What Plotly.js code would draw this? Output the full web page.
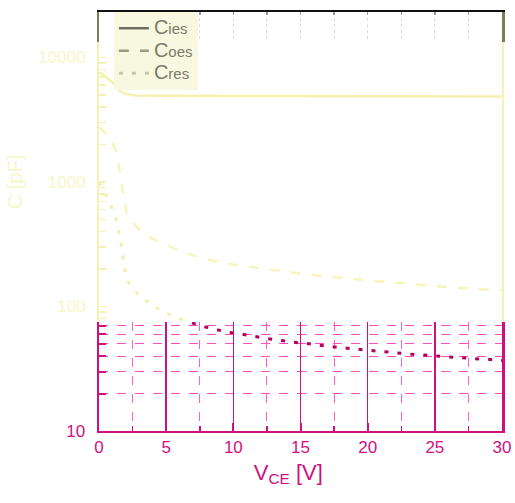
<!DOCTYPE html>
<html>
<head>
<meta charset="utf-8">
<script src="https://cdn.plot.ly/plotly-3.0.1.min.js"></script>
<style>html,body{margin:0;padding:0;background:#fff;}</style>
</head>
<body>
<div id="chart" style="width:515px;height:503px;"></div>
<script>
// ---- data (VCE in V, capacitance in pF) ----
const ciesV = [0, 0.5, 1.0, 1.5, 2.0, 2.7, 5, 10, 15, 20, 25, 30];
const ciesC = [7600, 7000, 6300, 5450, 5100, 4950, 4920, 4900, 4890, 4880, 4870, 4860];

const coesV = [0, 0.67, 1.19, 1.41, 1.49, 1.64, 1.73, 1.86, 2.06, 2.43, 3.28, 4.02, 5.06, 5.66, 6.92, 8.49, 9.88, 11.61, 13.35, 14.84, 16.58, 18.19, 19.8, 21.42, 23.03, 24.77, 26.26, 27.86, 30];
const coesC = [2750, 2390, 1880, 1590, 1300, 1080, 874, 717, 564, 477, 389, 348, 312, 290, 259, 234, 218, 205, 193, 185, 176, 169, 163, 157, 153, 146, 143, 138, 135];

const cresV = [0, 0.82, 1.19, 1.41, 1.64, 1.76, 1.88, 2.18, 2.88, 3.80, 4.79, 5.78, 6.70, 7.64, 8.64, 9.63, 10.57, 11.56, 12.53, 13.47, 14.44, 15.39, 16.36, 17.32, 18.29, 19.26, 20.2, 21.16, 22.13, 23.1, 24.07, 25.01, 25.98, 26.95, 27.92, 28.88, 30];
const cresC = [1000, 678, 543, 419, 324, 259, 204, 157, 126, 105, 90.3, 80.9, 75.1, 69.7, 65.6, 62.1, 60.1, 57.2, 55.1, 53.5, 51.6, 50.6, 48.8, 47.5, 46.4, 45.3, 44.2, 43.4, 42.6, 41.5, 40.8, 40.0, 39.3, 38.8, 38.1, 37.7, 36.8];

const seriesNames = [
  '<span style="font-size:20px">C</span>ies',
  '<span style="font-size:20px">C</span>oes',
  '<span style="font-size:20px">C</span>res'
];
const xTicks = [0, 5, 10, 15, 20, 25, 30];
const yTickLow = [10];
const yTickLowText = ['10'];
const yTickMid = [100, 1000, 10000];
const yTickMidText = ['100', '1000', '10000'];

// ---- styling ----
const MAG = '#d0107f';
const PALE = '#f6f2b4';
const PALE_TXT = '#f8f6c8';
const FONT = 'Liberation Sans, Arial, sans-serif';

const series = [
  {x: ciesV, y: ciesC, dash: 'solid', w: 2.5, low: MAG, mid: '#f5f0ae', top: '#6f6f60'},
  {x: coesV, y: coesC, dash: '10px,11px', w: 2.5, low: MAG, mid: '#f8f5bc', top: '#9a9a80'},
  {x: cresV, y: cresC, dash: '4px,9px', w: 3, low: '#b3005b', mid: '#f4efae', top: '#c8c8a8'}
];

const traces = [];
series.forEach((s, i) => {
  traces.push({x: s.x, y: s.y, xaxis: 'x', yaxis: 'y', mode: 'lines', showlegend: false,
    line: {color: s.low, width: s.w, dash: s.dash}, hoverinfo: 'skip'});
  traces.push({x: s.x, y: s.y, xaxis: 'x2', yaxis: 'y2', mode: 'lines', showlegend: false,
    line: {color: s.mid, width: s.w, dash: s.dash}, hoverinfo: 'skip'});
  traces.push({x: s.x, y: s.y, xaxis: 'x3', yaxis: 'y3', mode: 'lines', name: seriesNames[i], showlegend: true,
    line: {color: s.top, width: s.w, dash: s.dash}, hoverinfo: 'skip'});
});

const lowTop = 1.8755, midTop = 4.1245, yTop = 4.365;
const dLow = 109 / 419, dMid = 389 / 419;

const layout = {
  width: 515, height: 503,
  margin: {l: 99, r: 13, t: 12, b: 72, pad: 0},
  paper_bgcolor: '#ffffff', plot_bgcolor: '#ffffff',
  font: {family: FONT, color: MAG},
  showlegend: true,
  legend: {x: 0.037, y: 1, xanchor: 'left', yanchor: 'top', bgcolor: '#f8f8e0',
    borderwidth: 0, font: {size: 15, color: '#7a7a68', family: FONT}, tracegroupgap: 0,
    entrywidth: 62, entrywidthmode: 'pixels'},
  xaxis: {
    anchor: 'y', domain: [0, 1], range: [0, 30],
    tickvals: xTicks, ticks: 'inside', ticklen: 8, tickwidth: 2, tickcolor: MAG,
    tickfont: {size: 17, color: MAG, family: FONT},
    showline: true, linecolor: MAG, linewidth: 2, mirror: false,
    showgrid: true, gridcolor: MAG, gridwidth: 1.5,
    minor: {dtick: 2.5, tick0: 0, ticks: 'inside', ticklen: 5, tickcolor: MAG, tickwidth: 1.5,
      showgrid: true, gridcolor: '#ff5fc8', gridwidth: 1, griddash: 'dash'},
    zeroline: false,
    title: {text: 'V<sub>CE</sub> [V]&nbsp;&nbsp;&nbsp;&nbsp;', font: {size: 22, color: MAG, family: FONT}, standoff: 8}
  },
  yaxis: {
    anchor: 'x', domain: [0, dLow], type: 'log', range: [1, lowTop],
    tickvals: yTickLow, ticktext: yTickLowText,
    ticks: 'inside', ticklen: 7, tickwidth: 2, tickcolor: MAG,
    tickfont: {size: 17, color: MAG, family: FONT}, ticklabelstandoff: 8,
    showline: true, linecolor: MAG, linewidth: 2.5, mirror: true,
    showgrid: true, gridcolor: '#ff4fc0', gridwidth: 1, griddash: 'dash', zeroline: false,
    minor: {dtick: 'D1', ticks: 'inside', ticklen: 7, tickwidth: 2, tickcolor: MAG,
      showgrid: true, gridcolor: '#ff4fc0', gridwidth: 1, griddash: 'dash'}
  },
  xaxis2: {
    anchor: 'y2', matches: 'x', showticklabels: false, ticks: '', showgrid: false,
    showline: false, zeroline: false
  },
  yaxis2: {
    anchor: 'x2', domain: [dLow, dMid], type: 'log', range: [lowTop, midTop],
    tickvals: yTickMid, ticktext: yTickMidText,
    ticks: 'inside', ticklen: 7, tickwidth: 1.5, tickcolor: PALE,
    tickfont: {size: 17, color: PALE_TXT, family: FONT}, ticklabelstandoff: 8,
    showline: true, linecolor: PALE, linewidth: 2, mirror: true,
    showgrid: false, zeroline: false,
    minor: {dtick: 'D1', ticks: 'inside', ticklen: 7, tickwidth: 1.5, tickcolor: PALE, showgrid: false},
    title: {text: 'C [pF]', font: {size: 20, color: PALE_TXT, family: FONT}, standoff: 10}
  },
  xaxis3: {
    anchor: 'y3', matches: 'x', side: 'top', showticklabels: false,
    dtick: 2.5, tick0: 0, ticks: 'inside', ticklen: 3, tickcolor: '#9a9a9a', tickwidth: 1.5,
    showgrid: true, gridcolor: '#dcdcc8', gridwidth: 1, griddash: 'dot',
    showline: true, linecolor: '#111111', linewidth: 2.5, zeroline: false
  },
  yaxis3: {
    anchor: 'x3', domain: [dMid, 1], type: 'log', range: [midTop, yTop],
    showticklabels: false, ticks: '', showgrid: false,
    showline: true, linecolor: '#7c7c58', linewidth: 2.5, mirror: true, zeroline: false
  }
};

Plotly.newPlot('chart', traces, layout, {displayModeBar: false, staticPlot: true});
</script>
</body>
</html>
